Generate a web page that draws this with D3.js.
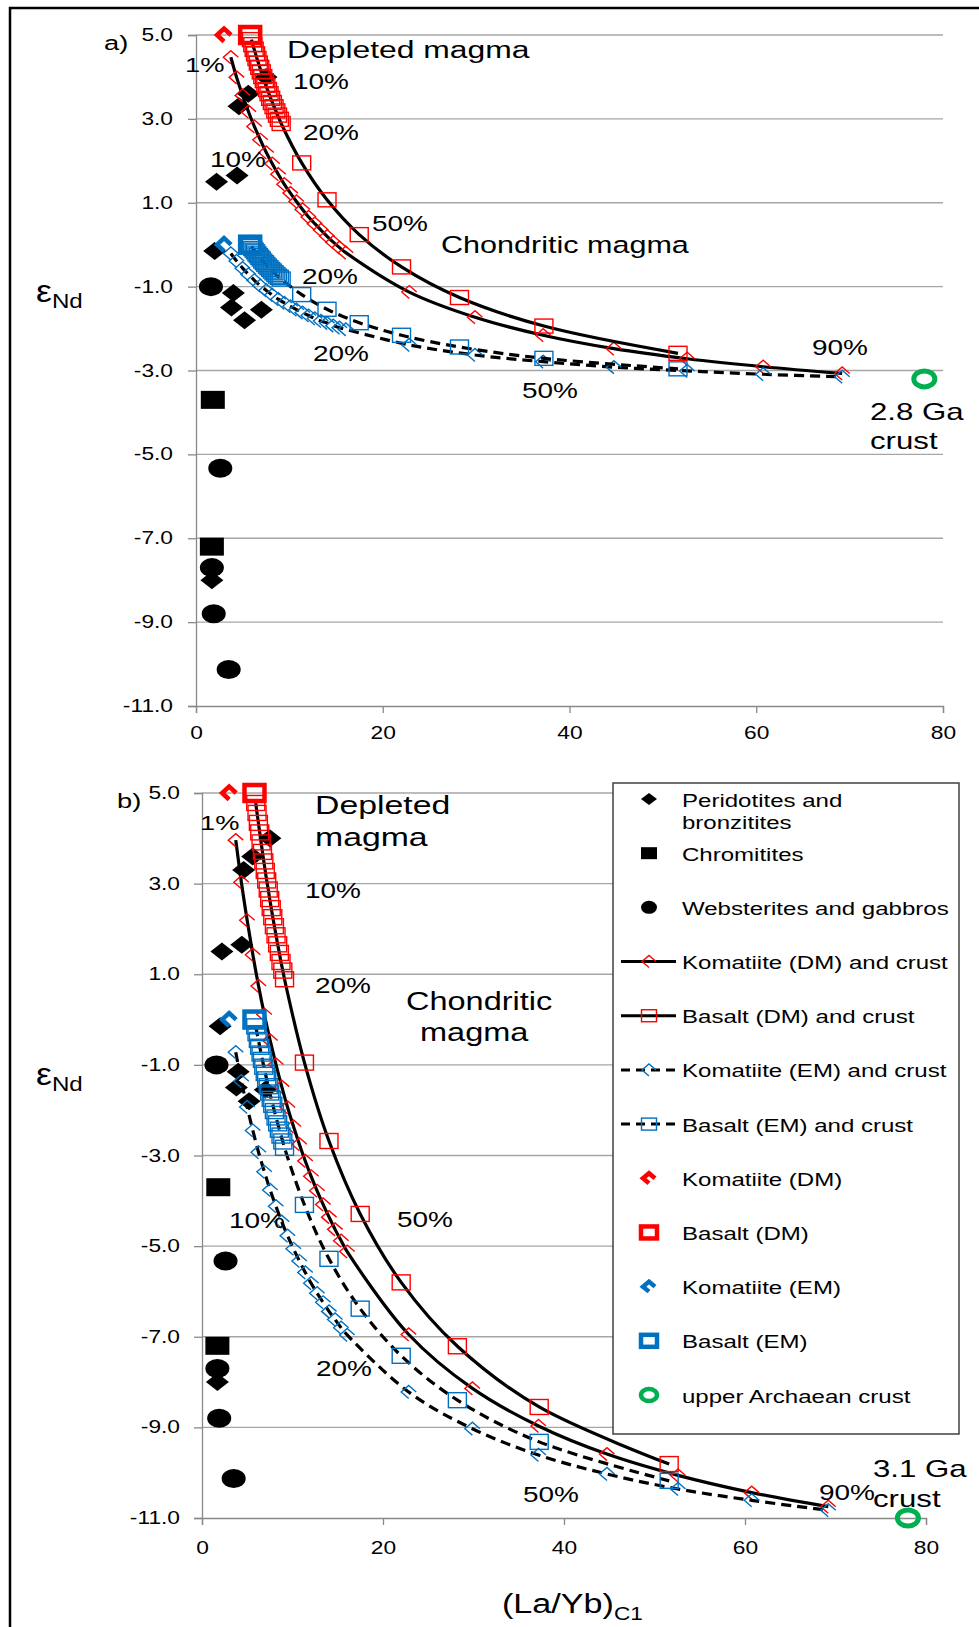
<!DOCTYPE html>
<html>
<head>
<meta charset="utf-8">
<script src="https://cdn.jsdelivr.net/npm/d3@7"></script>
<style>
  body { margin: 0; background: #fff; }
  svg text { font-family: "Liberation Sans", Arial, sans-serif; fill: #000; }
</style>
</head>
<body>
<script>
/// data ///
const yTicks = [5, 3, 1, -1, -3, -5, -7, -9, -11];
const xTicks = [0, 20, 40, 60, 80];

// samples (same in both panels)
const periX = [7.5, 5.6, 4.6, 2.2, 4.4, 2.0, 4.0, 3.8, 7.0, 5.2, 1.7];
const periY = [4.0, 3.6, 3.3, 1.5, 1.65, -0.15, -1.15, -1.5, -1.55, -1.8, -8.0];
const chromX = [1.8, 1.7];
const chromY = [-3.7, -7.2];
const webX = [1.6, 2.6, 1.7, 1.9, 3.5];
const webY = [-1.0, -5.33, -7.7, -8.8, -10.13];

// mixing points, 1..20 % crust then 30..90 %
const komX = [3.73, 4.35, 4.99, 5.62, 6.25, 6.89, 7.53, 8.17, 8.81, 9.46, 10.11, 10.76, 11.41, 12.06, 12.72, 13.38, 14.04, 14.70, 15.37, 16.04, 22.84, 29.88, 37.18, 44.75, 52.60, 60.74, 69.20];
const basX = [5.94, 6.08, 6.23, 6.38, 6.53, 6.68, 6.83, 6.99, 7.15, 7.32, 7.48, 7.65, 7.82, 8.00, 8.18, 8.36, 8.55, 8.73, 8.93, 9.12, 11.32, 14.03, 17.48, 22.01, 28.22, 37.26, 51.62];

// panel a (2.8 Ga crust)
const komDMa = [4.47, 3.99, 3.56, 3.17, 2.82, 2.50, 2.20, 1.93, 1.68, 1.44, 1.23, 1.03, 0.84, 0.66, 0.50, 0.35, 0.20, 0.06, -0.07, -0.19, -1.13, -1.73, -2.16, -2.48, -2.72, -2.91, -3.07];
const basDMa = [4.89, 4.77, 4.66, 4.55, 4.44, 4.33, 4.23, 4.12, 4.01, 3.91, 3.80, 3.70, 3.60, 3.49, 3.39, 3.29, 3.19, 3.09, 2.99, 2.89, 1.95, 1.07, 0.24, -0.53, -1.26, -1.94, -2.59];
const komEMa = [-0.21, -0.39, -0.56, -0.71, -0.85, -0.98, -1.09, -1.20, -1.30, -1.39, -1.47, -1.55, -1.62, -1.69, -1.76, -1.82, -1.87, -1.93, -1.98, -2.02, -2.39, -2.63, -2.79, -2.92, -3.01, -3.09, -3.15];
const basEMa = [-0.04, -0.09, -0.13, -0.17, -0.22, -0.26, -0.30, -0.34, -0.39, -0.43, -0.47, -0.51, -0.55, -0.59, -0.63, -0.67, -0.71, -0.75, -0.78, -0.82, -1.19, -1.54, -1.86, -2.16, -2.44, -2.71, -2.96];

// panel b (3.1 Ga crust)
const komDMb = [3.96, 3.03, 2.19, 1.43, 0.74, 0.11, -0.46, -0.99, -1.48, -1.94, -2.36, -2.75, -3.12, -3.46, -3.78, -4.08, -4.36, -4.63, -4.88, -5.12, -6.95, -8.14, -8.97, -9.59, -10.06, -10.44, -10.75];
const basDMb = [4.78, 4.56, 4.34, 4.13, 3.91, 3.70, 3.49, 3.28, 3.07, 2.87, 2.66, 2.46, 2.26, 2.06, 1.86, 1.66, 1.47, 1.27, 1.08, 0.89, -0.95, -2.68, -4.29, -5.80, -7.21, -8.55, -9.81];
const komEMb = [-0.72, -1.36, -1.93, -2.45, -2.93, -3.36, -3.76, -4.12, -4.46, -4.77, -5.06, -5.33, -5.58, -5.82, -6.04, -6.24, -6.44, -6.62, -6.80, -6.96, -8.22, -9.03, -9.61, -10.03, -10.36, -10.61, -10.83];
const basEMb = [-0.15, -0.30, -0.45, -0.60, -0.75, -0.89, -1.04, -1.18, -1.32, -1.47, -1.61, -1.75, -1.88, -2.02, -2.16, -2.29, -2.43, -2.56, -2.69, -2.83, -4.09, -5.28, -6.38, -7.42, -8.40, -9.32, -10.18];

// end members
const sourceX = [3.0, 5.8];      // komatiite, basalt
const sourceY = [5.0, 0.0];      // DM, EM
const crustX = 78;
const crustY = [-3.2, -11.0];    // panel a, panel b

const legendLabels = ["Peridotites and\nbronzitites", "Chromitites", "Websterites and gabbros",
  "Komatiite (DM) and crust", "Basalt (DM) and crust", "Komatiite (EM) and crust", "Basalt (EM) and crust",
  "Komatiite (DM)", "Basalt (DM)", "Komatiite (EM)", "Basalt (EM)", "upper Archaean crust"];

/// setup ///
const width = 979, height = 1627;
const SX = 1.3;   // the original figure is stretched sideways
const red = "#ff0000", blue = "#0070c0", green = "#00b050", grid = "#a6a6a6", axisCol = "#898989";

const svg = d3.select("body").append("svg")
  .attr("width", width).attr("height", height);

function label(g, x, y, str, size, anchor = "start") {
  return g.append("text")
    .attr("transform", `translate(${x},${y}) scale(${SX},1)`)
    .attr("text-anchor", anchor)
    .attr("font-size", size)
    .text(str);
}
const chevron = (w, h) => `M${w},0L0,${-h}L${-w},0L0,${h}`;
const diamond = (w, h) => `M0,${-h}L${w},0L0,${h}L${-w},0Z`;

// frame
svg.append("path").attr("d", `M10,${height}V8H${width}`)
  .attr("fill", "none").attr("stroke", "#000").attr("stroke-width", 2.5);

function drawPanel(p) {
  const x = d3.scaleLinear().domain([0, 80]).range([p.left, p.right]);
  const y = d3.scaleLinear().domain([-11, 5]).range([p.bottom, p.top]);
  const g = svg.append("g");

  // grid
  g.selectAll("line.grid").data(yTicks.filter(v => v > -11)).join("line")
    .attr("class", "grid")
    .attr("x1", p.left).attr("x2", p.right)
    .attr("y1", d => y(d)).attr("y2", d => y(d))
    .attr("stroke", grid).attr("stroke-width", 1.3);

  // axes
  const ya = g.append("g").attr("transform", `translate(${p.left},0)`)
    .call(d3.axisLeft(y).tickValues(yTicks).tickSize(8).tickFormat(d => d.toFixed(1)));
  const xa = g.append("g").attr("transform", `translate(0,${p.bottom})`)
    .call(d3.axisBottom(x).tickValues(xTicks).tickSize(7).tickFormat(d => d));
  [ya, xa].forEach(a => {
    a.attr("font-family", null).attr("font-size", null);
    a.select(".domain").attr("stroke", axisCol).attr("stroke-width", 1.3);
    a.selectAll(".tick line").attr("stroke", axisCol).attr("stroke-width", 1.3);
  });
  ya.selectAll(".tick text").attr("x", -p.tickGap / SX)
    .attr("transform", `scale(${SX},1)`).attr("font-size", 17.5);
  xa.selectAll(".tick text").attr("y", p.xGap)
    .attr("transform", `scale(${SX},1)`).attr("font-size", 17.5);

  // samples
  g.selectAll("path.peri").data(d3.zip(periX, periY)).join("path")
    .attr("class", "peri").attr("d", diamond(11.5, 9))
    .attr("transform", d => `translate(${x(d[0])},${y(d[1])})`);
  g.selectAll("rect.chrom").data(d3.zip(chromX, chromY)).join("rect")
    .attr("class", "chrom")
    .attr("x", d => x(d[0]) - 12).attr("y", d => y(d[1]) - 9)
    .attr("width", 24).attr("height", 18);
  g.selectAll("ellipse.web").data(d3.zip(webX, webY)).join("ellipse")
    .attr("class", "web")
    .attr("cx", d => x(d[0])).attr("cy", d => y(d[1]))
    .attr("rx", 12).attr("ry", 9.5);

  // mixing lines
  const line = d3.line().x(d => x(d[0])).y(d => y(d[1])).curve(d3.curveCatmullRom.alpha(0.5));
  const series = [
    { xs: komX, ys: p.kDM, col: red, dash: null, mark: "chev" },
    { xs: basX, ys: p.bDM, col: red, dash: null, mark: "sq" },
    { xs: komX, ys: p.kEM, col: blue, dash: "10,6", mark: "chev" },
    { xs: basX, ys: p.bEM, col: blue, dash: "10,6", mark: "sq" }
  ];
  series.forEach(s => {
    const pts = d3.zip(s.xs, s.ys);
    g.append("path").datum(pts).attr("d", line)
      .attr("fill", "none").attr("stroke", "#000").attr("stroke-width", 3.2)
      .attr("stroke-dasharray", s.dash);
    const m = g.append("g").attr("fill", "none").attr("stroke", s.col).attr("stroke-width", 1.4);
    if (s.mark === "chev") {
      m.selectAll("path").data(pts).join("path")
        .attr("d", chevron(7.5, 6.5))
        .attr("transform", d => `translate(${x(d[0])},${y(d[1])})`);
    } else {
      m.selectAll("rect").data(pts).join("rect")
        .attr("x", d => x(d[0]) - 9).attr("y", d => y(d[1]) - p.sqH / 2)
        .attr("width", 18).attr("height", p.sqH);
    }
  });

  // end members
  sourceY.forEach((sy, i) => {
    const col = i === 0 ? red : blue;
    g.append("path").attr("d", chevron(7, 6.5))
      .attr("transform", `translate(${x(sourceX[0])},${y(sy)})`)
      .attr("fill", "none").attr("stroke", col).attr("stroke-width", 4.5);
    g.append("rect")
      .attr("x", x(sourceX[1]) - 10).attr("y", y(sy) - 8)
      .attr("width", 20).attr("height", 16)
      .attr("fill", "none").attr("stroke", col).attr("stroke-width", 4.5);
  });
  g.append("ellipse").attr("cx", x(crustX)).attr("cy", y(p.crust))
    .attr("rx", 10.5).attr("ry", 8)
    .attr("fill", "none").attr("stroke", green).attr("stroke-width", 5);

  // y label
  const yl = g.append("text")
    .attr("transform", `translate(36,${p.epsY}) scale(1.15,1)`);
  yl.append("tspan").attr("font-size", 31).text("ε");
  yl.append("tspan").attr("font-size", 21).attr("dy", 6).text("Nd");

  // annotations
  p.notes.forEach(n => label(g, n[0], n[1], n[2], n[3]));
}

drawPanel({
  left: 196, right: 943, top: 35, bottom: 706, tickGap: 23, xGap: 21, sqH: 14,
  kDM: komDMa, bDM: basDMa, kEM: komEMa, bEM: basEMa, crust: crustY[0], epsY: 302,
  notes: [
    [104, 50, "a)", 21], [185, 72, "1%", 21], [287, 58, "Depleted magma", 24.5],
    [293, 89, "10%", 21.5], [303, 140, "20%", 21.5], [210, 167, "10%", 21.5],
    [372, 231, "50%", 21.5], [441, 253, "Chondritic magma", 23.5], [302, 284, "20%", 21.5],
    [313, 361, "20%", 21.5], [522, 398, "50%", 21.5], [812, 355, "90%", 21.5],
    [870, 420, "2.8 Ga", 24], [870, 449, "crust", 24]
  ]
});

drawPanel({
  left: 202, right: 926, top: 793, bottom: 1518, tickGap: 22, xGap: 24, sqH: 15,
  kDM: komDMb, bDM: basDMb, kEM: komEMb, bEM: basEMb, crust: crustY[1], epsY: 1085,
  notes: [
    [117, 808, "b)", 21], [200, 830, "1%", 21], [315, 814, "Depleted", 26], [315, 846, "magma", 26],
    [305, 898, "10%", 21.5], [315, 993, "20%", 21.5], [406, 1010, "Chondritic", 25], [420, 1041, "magma", 25],
    [229, 1228, "10%", 21.5], [397, 1227, "50%", 21.5], [316, 1376, "20%", 21.5],
    [523, 1502, "50%", 21.5], [819, 1500, "90%", 21.5],
    [873, 1477, "3.1 Ga", 24], [873, 1507, "crust", 24]
  ]
});

/// x axis title ///
const xt = svg.append("text").attr("transform", `translate(502,1613) scale(1.22,1)`);
xt.append("tspan").attr("font-size", 28).text("(La/Yb)");
xt.append("tspan").attr("font-size", 18.5).attr("dy", 7).text("C1");

/// legend ///
const lg = svg.append("g");
lg.append("rect").attr("x", 613).attr("y", 783).attr("width", 346).attr("height", 651)
  .attr("fill", "#fff").attr("stroke", "#404040").attr("stroke-width", 1.5);
const rowY = d3.scaleLinear().domain([0, legendLabels.length - 1]).range([799, 1395]);
const mx = 649;
legendLabels.forEach((lab, i) => {
  const cy = rowY(i);
  lab.split("\n").forEach((t, j) => label(lg, 682, cy + 7.5 + j * 22.5, t, 18.5));
  if (i === 0) lg.append("path").attr("d", diamond(8, 6)).attr("transform", `translate(${mx},${cy})`);
  if (i === 1) lg.append("rect").attr("x", mx - 8).attr("y", cy - 6).attr("width", 16).attr("height", 12);
  if (i === 2) lg.append("ellipse").attr("cx", mx).attr("cy", cy).attr("rx", 8).attr("ry", 6.5);
  if (i >= 3 && i <= 6) {
    const col = i <= 4 ? red : blue;
    lg.append("line").attr("x1", 621).attr("x2", 676).attr("y1", cy).attr("y2", cy)
      .attr("stroke", "#000").attr("stroke-width", 3)
      .attr("stroke-dasharray", i <= 4 ? null : "9,6");
    if (i % 2 === 1) {
      lg.append("path").attr("d", chevron(7, 6)).attr("transform", `translate(${mx},${cy})`)
        .attr("fill", "none").attr("stroke", col).attr("stroke-width", 1.4);
    } else {
      lg.append("rect").attr("x", mx - 7.5).attr("y", cy - 6).attr("width", 15).attr("height", 12)
        .attr("fill", "none").attr("stroke", col).attr("stroke-width", 1.4);
    }
  }
  if (i >= 7 && i <= 10) {
    const col = i <= 8 ? red : blue;
    if (i % 2 === 1) {
      lg.append("path").attr("d", chevron(6, 5)).attr("transform", `translate(${mx},${cy})`)
        .attr("fill", "none").attr("stroke", col).attr("stroke-width", 4.5);
    } else {
      lg.append("rect").attr("x", mx - 8).attr("y", cy - 6).attr("width", 16).attr("height", 12)
        .attr("fill", "none").attr("stroke", col).attr("stroke-width", 4.5);
    }
  }
  if (i === 11) lg.append("ellipse").attr("cx", mx).attr("cy", cy).attr("rx", 8).attr("ry", 6)
    .attr("fill", "none").attr("stroke", green).attr("stroke-width", 4.5);
});
</script>
</body>
</html>
